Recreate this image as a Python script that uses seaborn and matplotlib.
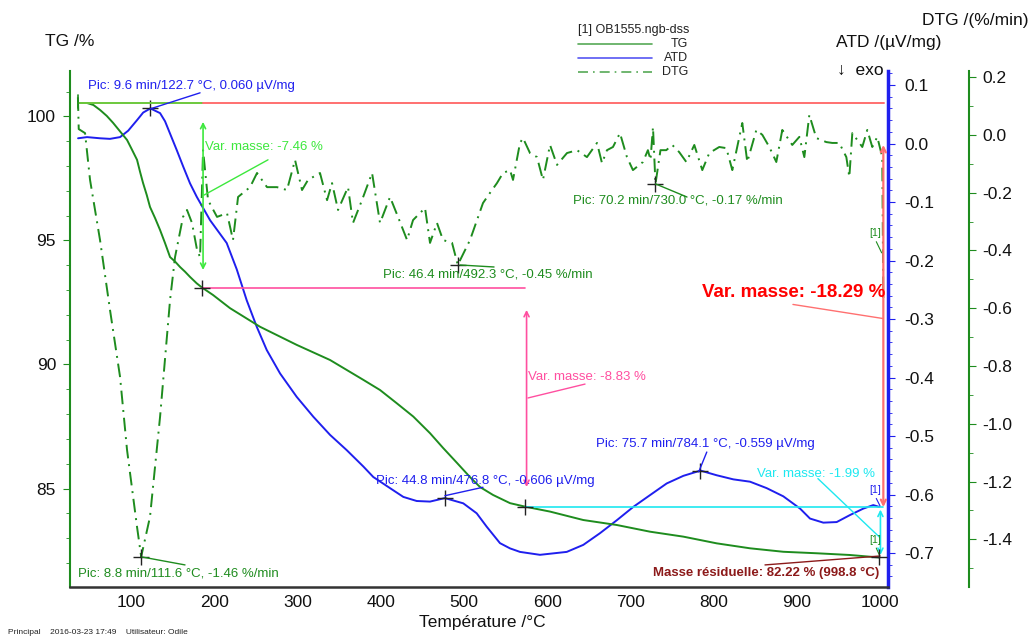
import seaborn as sns
import matplotlib.pyplot as plt
from matplotlib.ticker import MultipleLocator

# TG curve (mass %, left axis)
temp_tg = [35.7, 46.5, 54.1, 62.1, 70.2, 77.8, 94.6, 100.2, 106.6, 110.2, 113.8, 118.3,
           122.2, 128.3, 134.3, 140.3, 146.3, 152.3, 158.3, 164.3, 170.3, 178.4, 184.8,
           198.0, 218.4, 254.5, 298.6, 338.7, 378.7, 398.8, 418.8, 438.8, 458.9, 474.5,
           491.4, 507.0, 519.0, 534.7, 555.1, 573.1, 603.2, 643.2, 683.4, 723.4, 763.5,
           803.6, 843.7, 883.7, 923.8, 963.9, 998.8]
tg = [100.54, 100.54, 100.46, 100.26, 100.02, 99.74, 99.05, 98.68, 98.25, 97.77, 97.32, 96.83,
      96.35, 95.90, 95.42, 94.89, 94.33, 94.15, 93.93, 93.74, 93.53, 93.27, 93.10,
      92.80, 92.27, 91.52, 90.79, 90.18, 89.38, 88.97, 88.44, 87.90, 87.23, 86.64,
      86.03, 85.46, 85.06, 84.74, 84.41, 84.27, 84.07, 83.73, 83.53, 83.26, 83.06,
      82.79, 82.59, 82.45, 82.39, 82.32, 82.22]

# ATD curve (uV/mg)
temp_atd = [35.7, 46.5, 62.1, 74.1, 86.2, 96.0, 106.6, 114.0, 122.7, 134.3, 140.3, 146.3,
            154.3, 162.3, 170.3, 178.4, 194.4, 214.4, 226.5, 238.5, 250.5, 262.6, 278.6,
            298.6, 318.6, 338.7, 358.7, 378.7, 390.7, 410.8, 426.8, 442.9, 458.9, 476.8,
            498.9, 515.0, 527.1, 543.0, 555.1, 567.1, 591.1, 623.3, 643.2, 663.3, 683.4,
            703.4, 723.4, 743.5, 763.5, 784.1, 803.6, 823.6, 843.7, 863.7, 883.7, 903.9,
            915.8, 931.8, 947.9, 963.9, 979.9, 991.9, 998.8]
atd = [0.009, 0.011, 0.009, 0.008, 0.011, 0.022, 0.040, 0.053, 0.060, 0.052, 0.038, 0.017,
       -0.011, -0.040, -0.068, -0.091, -0.131, -0.170, -0.215, -0.268, -0.313, -0.353, -0.393,
       -0.433, -0.467, -0.498, -0.524, -0.552, -0.570, -0.589, -0.604, -0.611, -0.612, -0.606,
       -0.615, -0.632, -0.655, -0.683, -0.692, -0.698, -0.703, -0.698, -0.686, -0.666, -0.644,
       -0.621, -0.601, -0.581, -0.568, -0.559, -0.567, -0.574, -0.578, -0.589, -0.603, -0.624,
       -0.641, -0.648, -0.647, -0.635, -0.624, -0.618, -0.621]

# DTG curve (%/min)
temp_dtg = [35.5, 36.5, 44.1, 50.1, 62.1, 74.1, 86.2, 94.6, 106.6, 111.6, 122.2, 134.3,
            146.3, 152.3, 161.9, 166.7, 172.7, 178.8, 182.4, 186.0, 192.0, 202.8, 214.8,
            222.0, 228.1, 242.5, 250.9, 262.9, 274.9, 286.9, 296.6, 305.0, 312.2, 326.6,
            335.1, 341.1, 348.3, 360.3, 366.3, 377.1, 389.2, 398.8, 410.8, 420.4, 431.3,
            438.5, 452.9, 458.9, 467.3, 474.5, 485.4, 492.3, 507.0, 522.6, 531.0, 539.4,
            546.7, 555.1, 558.7, 567.1, 570.7, 579.1, 587.5, 594.7, 603.2, 611.6, 623.6,
            635.6, 647.6, 659.7, 665.7, 671.7, 678.9, 687.3, 695.7, 702.9, 714.9, 720.9,
            724.0, 727.0, 730.0, 736.0, 743.0, 750.2, 758.6, 767.1, 776.7, 786.3, 794.7,
            806.7, 815.2, 822.4, 834.4, 840.4, 851.3, 858.5, 866.9, 875.3, 882.5, 894.5,
            903.0, 909.0, 915.0, 923.4, 935.4, 942.6, 951.0, 959.5, 963.1, 966.7, 978.7,
            984.7, 990.7, 996.7, 1002.7, 1004.0]
dtg = [0.13, 0.02, 0.006, -0.156, -0.364, -0.606, -0.838, -1.091, -1.357, -1.46, -1.322, -0.976,
       -0.572, -0.423, -0.284, -0.260, -0.305, -0.399, -0.423, -0.053, -0.226, -0.284, -0.271,
       -0.364, -0.215, -0.181, -0.132, -0.181, -0.181, -0.191, -0.087, -0.191, -0.156, -0.132,
       -0.226, -0.167, -0.260, -0.181, -0.305, -0.226, -0.132, -0.305, -0.215, -0.284, -0.364,
       -0.295, -0.253, -0.374, -0.305, -0.364, -0.374, -0.45, -0.364, -0.236, -0.201, -0.167,
       -0.132, -0.122, -0.156, -0.028, -0.011, -0.063, -0.077, -0.156, -0.035, -0.104, -0.063,
       -0.053, -0.077, -0.028, -0.098, -0.053, -0.042, 0.006, -0.077, -0.122, -0.094, -0.053,
       -0.087, 0.027, -0.17, -0.053, -0.053, -0.035, -0.060, -0.094, -0.035, -0.122, -0.063,
       -0.042, -0.046, -0.122, 0.041, -0.094, 0.017, 0.000, -0.042, -0.094, 0.017, -0.035,
       -0.007, -0.077, 0.069, -0.011, -0.025, -0.028, -0.028, -0.077, -0.146, 0.006, -0.042,
       0.017, -0.042, -0.007, -0.077, -0.58]

assert len(temp_tg) == len(tg) and len(temp_atd) == len(atd) and len(temp_dtg) == len(dtg)

# step values from the software
tg_start = 100.56
tg_step1 = 93.10   # 184.8 C
tg_step2 = 84.27   # 573.1 C
tg_end = 82.22     # 998.8 C

GREEN = "#1e8c1e"
BLUE = "#1f1fee"
LIME = "#3de83d"
PINK = "#ff4fa0"
CYAN = "#1ee8f0"
LRED = "#ff7070"
DRED = "#8c1a1a"

sns.set_style("white")
plt.rcParams["font.family"] = ["Liberation Sans", "DejaVu Sans"]

fig = plt.figure(figsize=(10.31, 6.37), dpi=100)
W, H = 1031, 637
ax = fig.add_axes([70 / W, 1 - 587 / H, 818 / W, 516 / H])
ax2 = ax.twinx()
ax3 = ax.twinx()
ax.set_zorder(3)
ax.patch.set_visible(False)

sns.lineplot(x=temp_atd, y=atd, ax=ax2, color=BLUE, lw=1.4, estimator=None, sort=False)
sns.lineplot(x=temp_dtg, y=dtg, ax=ax3, color=GREEN, lw=1.4, estimator=None, sort=False,
             linestyle=(0, (7, 3, 1, 3)))
sns.lineplot(x=temp_tg, y=tg, ax=ax, color=GREEN, lw=1.4, estimator=None, sort=False)

ax.set_xlim(26.0, 1009.6)
ax.set_ylim(81.03, 101.83)
ax2.set_ylim(-0.758, 0.124)
ax3.set_ylim(-1.565, 0.221)

for a in (ax, ax2, ax3):
    for s in a.spines.values():
        s.set_visible(False)
    a.set_xlabel("")
    a.set_ylabel("")

ax.spines["left"].set_visible(True)
ax.spines["left"].set_color(GREEN)
ax.spines["left"].set_linewidth(1.5)
ax.spines["bottom"].set_visible(True)
ax.spines["bottom"].set_color("#333333")
ax.spines["bottom"].set_linewidth(1.8)
ax2.spines["right"].set_visible(True)
ax2.spines["right"].set_color(BLUE)
ax2.spines["right"].set_linewidth(2.5)
ax3.spines["right"].set_visible(True)
ax3.spines["right"].set_color(GREEN)
ax3.spines["right"].set_linewidth(1.5)
ax3.spines["right"].set_position(("outward", 58))

ax.xaxis.set_minor_locator(MultipleLocator(25))
ax.set_xticks([100, 200, 300, 400, 500, 600, 700, 800, 900, 1000])
ax.yaxis.set_major_locator(MultipleLocator(5))
ax.yaxis.set_minor_locator(MultipleLocator(1))
ax2.yaxis.set_minor_locator(MultipleLocator(0.02))
ax2.set_yticks([0.1, 0.0, -0.1, -0.2, -0.3, -0.4, -0.5, -0.6, -0.7])
ax2.set_yticklabels(["0.1", "0.0", "-0.1", "-0.2", "-0.3", "-0.4", "-0.5", "-0.6", "-0.7"])
ax3.set_yticks([0.2, 0.0, -0.2, -0.4, -0.6, -0.8, -1.0, -1.2, -1.4])
ax3.set_yticklabels(["0.2", "0.0", "-0.2", "-0.4", "-0.6", "-0.8", "-1.0", "-1.2", "-1.4"])
ax3.yaxis.set_minor_locator(MultipleLocator(0.1))

ax.tick_params(axis="x", which="both", direction="in", colors="#333333", labelcolor="#111111",
               labelsize=12.5, pad=6)
ax.tick_params(axis="x", which="major", length=5)
ax.tick_params(axis="x", which="minor", length=3)
ax.tick_params(axis="y", which="both", direction="out", colors=GREEN, labelcolor="#111111",
               labelsize=12.5, pad=5, left=True)
ax.tick_params(axis="y", which="major", length=5)
ax.tick_params(axis="y", which="minor", length=3)
ax2.tick_params(axis="y", which="both", direction="out", colors=BLUE, labelcolor="#111111",
                labelsize=12.5, pad=7, right=True)
ax2.tick_params(axis="y", which="major", length=5)
ax2.tick_params(axis="y", which="minor", length=3)
ax3.tick_params(axis="y", which="both", direction="out", colors=GREEN, labelcolor="#111111",
                labelsize=12.5, pad=5, right=True)
ax3.tick_params(axis="y", which="major", length=5)
ax3.tick_params(axis="y", which="minor", length=3)
ax2.tick_params(axis="x", bottom=False, labelbottom=False)
ax3.tick_params(axis="x", bottom=False, labelbottom=False)

# mass-change construction lines
ax.plot([35.7, 186.0], [tg_start, tg_start], color="#6cc83c", lw=1.4)
ax.plot([35.7, 35.7], [100.85, 100.35], color=GREEN, lw=1.2)
ax.plot([186.0, 1005.0], [tg_start, tg_start], color=LRED, lw=1.4)
ax.plot([184.8, 573.1], [tg_step1, tg_step1], color=PINK, lw=1.2)
ax.plot([573.1, 1003.0], [tg_step2, tg_step2], color=CYAN, lw=1.2)


def arrow(xv, y0, y1, col, lw=1.2):
    ax.annotate("", xy=(xv, y1), xytext=(xv, y0),
                arrowprops=dict(arrowstyle="<->", color=col, lw=lw, mutation_scale=9,
                                shrinkA=0, shrinkB=0))


arrow(186.0, 93.81, 99.78, LIME)
arrow(575.0, 85.06, 92.20, PINK)
arrow(1000.5, 82.32, 84.15, CYAN)
arrow(1004.0, 84.25, 98.85, LRED, lw=1.6)

# leaders
ax.plot([264.1, 187.2], [98.25, 96.83], color=LIME, lw=1)
ax.plot([645.3, 576.7], [89.21, 88.65], color=PINK, lw=1)
ax.plot([925.3, 1000.0], [85.40, 83.02], color=CYAN, lw=1)
ax.plot([895.3, 1004.0], [92.42, 91.85], color=LRED, lw=1)
ax.plot([861.7, 1000.0], [81.92, 82.28], color=DRED, lw=1)
ax.plot([122.2, 182.4], [100.30, 100.95], color=BLUE, lw=1)
ax.plot([112.6, 164.3], [82.24, 81.92], color=GREEN, lw=1)
ax.plot([494.9, 535.9], [94.01, 93.93], color=GREEN, lw=1)
ax.plot([730.0, 767.9], [97.28, 96.75], color=GREEN, lw=1)
ax.plot([476.8, 522.6], [84.71, 85.05], color=BLUE, lw=1)
ax.plot([782.0, 791.7], [85.67, 86.47], color=BLUE, lw=1)

fs = 9.5
ax.text(188.4, 98.77, "Var. masse: -7.46 %", color=LIME, fontsize=fs, va="center")
ax.text(576.5, 89.50, "Var. masse: -8.83 %", color=PINK, fontsize=fs, va="center")
ax.text(852.0, 85.58, "Var. masse: -1.99 %", color=CYAN, fontsize=fs, va="center")
ax.text(1007.0, 92.90, "Var. masse: -18.29 %", color="red", fontsize=13.5, fontweight="bold",
        va="center", ha="right")
ax.text(862.9, 81.59, "Masse résiduelle: 82.22 % (998.8 °C)", color=DRED, fontsize=fs,
        fontweight="bold", va="center", ha="center")
ax.text(47.7, 101.23, "Pic: 9.6 min/122.7 °C, 0.060 µV/mg", color=BLUE, fontsize=fs, va="center")
ax.text(35.7, 81.59, "Pic: 8.8 min/111.6 °C, -1.46 %/min", color=GREEN, fontsize=fs, va="center")
ax.text(402.4, 93.61, "Pic: 46.4 min/492.3 °C, -0.45 %/min", color=GREEN, fontsize=fs, va="center")
ax.text(630.8, 96.59, "Pic: 70.2 min/730.0 °C, -0.17 %/min", color=GREEN, fontsize=fs, va="center")
ax.text(394.0, 85.30, "Pic: 44.8 min/476.8 °C, -0.606 µV/mg", color=BLUE, fontsize=fs, va="center")
ax.text(658.5, 86.79, "Pic: 75.7 min/784.1 °C, -0.559 µV/mg", color=BLUE, fontsize=fs, va="center")

# curve end tags
ax.text(994.0, 95.3, "[1]", color=GREEN, fontsize=7.5, ha="center", va="center")
ax.plot([995.5, 1002.0], [94.95, 94.5], color=GREEN, lw=0.8)
ax.text(994.0, 84.95, "[1]", color=BLUE, fontsize=7.5, ha="center", va="center")
ax.plot([995.5, 1000.0], [84.6, 84.3], color=BLUE, lw=0.8)
ax.text(994.0, 82.93, "[1]", color=GREEN, fontsize=7.5, ha="center", va="center")
ax.plot([995.5, 999.5], [82.6, 82.3], color=GREEN, lw=0.8)

# peak markers
mk = dict(marker="+", ms=11, mew=1.0, color="#222222", ls="none", zorder=6)
ax.plot([184.8, 573.1, 998.8], [tg_step1, tg_step2, tg_end], **mk)
mk2 = dict(mk, zorder=4)
ax2.plot([122.7, 476.8, 784.1], [0.060, -0.606, -0.559], **mk2)
ax3.plot([111.6, 492.3, 730.0], [-1.46, -0.45, -0.17], **mk2)

# axis titles and header
fig.text(45 / W, 1 - 42 / H, "TG /%", fontsize=12.5, va="center", color="#111111")
fig.text(1028 / W, 1 - 20 / H, "DTG /(%/min)", fontsize=12.5, va="center", ha="right",
         color="#111111")
fig.text(836 / W, 1 - 43 / H, "ATD /(µV/mg)", fontsize=12.5, va="center", color="#111111")
fig.text(837 / W, 1 - 70 / H, "↓  exo", fontsize=12.5, va="center", color="#111111")
fig.text(482 / W, 1 - 622 / H, "Température /°C", fontsize=12.5, va="center", ha="center",
         color="#111111")
fig.text(8 / W, 1 - 632 / H, "Principal    2016-03-23 17:49    Utilisateur: Odile",
         fontsize=6, va="center", color="#222222")

# legend
fig.text(578 / W, 1 - 30 / H, "[1] OB1555.ngb-dss", fontsize=9, va="center", color="#222222")
leg = [("TG", GREEN, "-"), ("ATD", BLUE, "-"), ("DTG", GREEN, (0, (6, 3, 1, 3)))]
for i, (name, col, ls) in enumerate(leg):
    yy = 1 - (44 + 14 * i) / H
    fig.add_artist(plt.Line2D([578 / W, 652 / W], [yy, yy], color=col, lw=1.2, ls=ls, alpha=0.75))
    fig.text(688 / W, yy, name, fontsize=9, va="center", ha="right", color="#222222")

fig.savefig("out.png", dpi=100)
